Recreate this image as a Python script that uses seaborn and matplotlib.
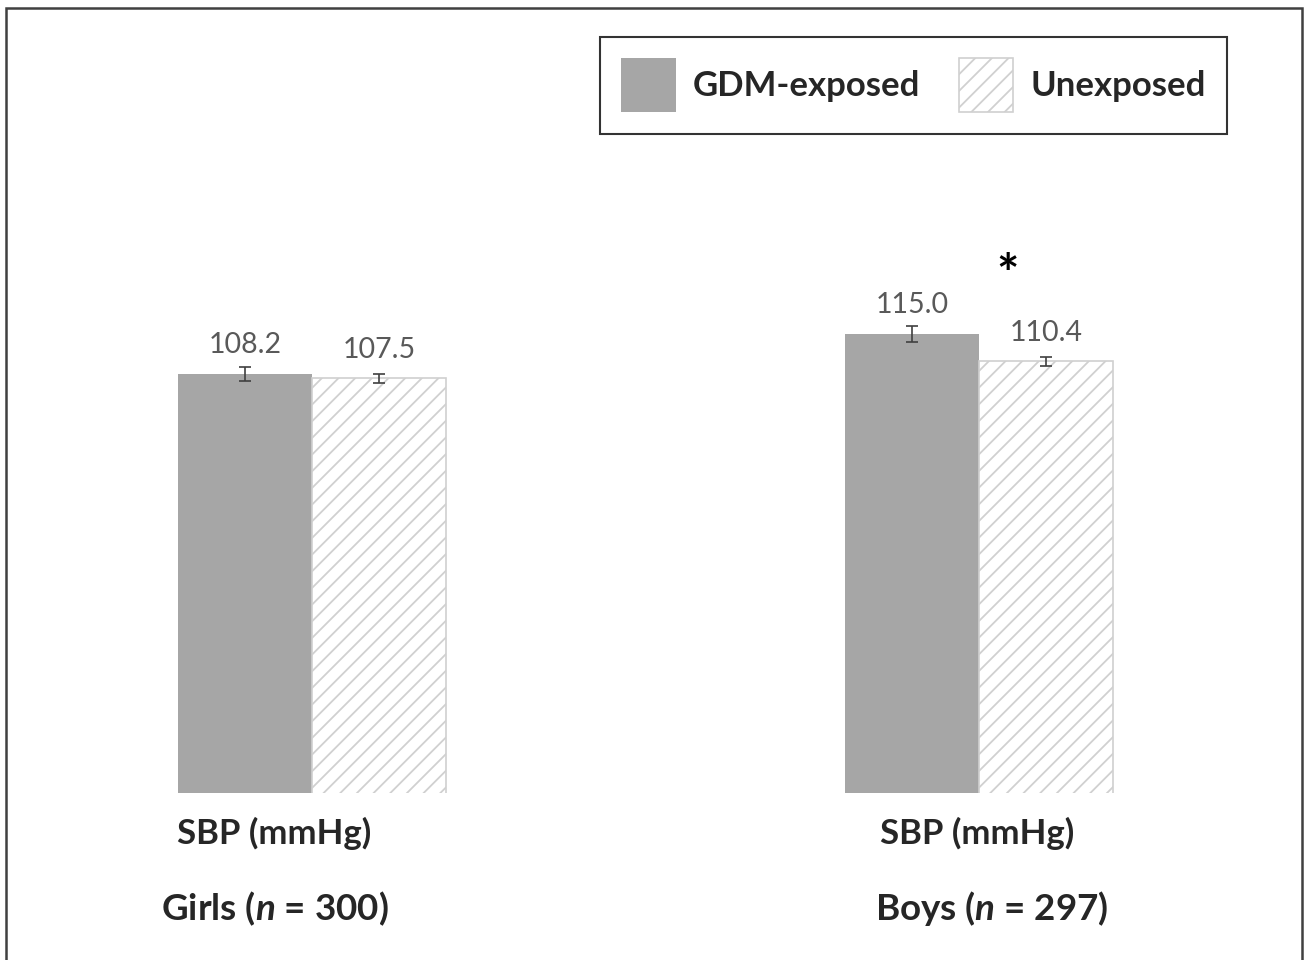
import matplotlib
matplotlib.use("Agg")
import matplotlib.pyplot as plt
import matplotlib.patches as mpatches
import seaborn as sns
import pandas as pd

# --------------------------------------
# Data
# --------------------------------------
groups = ["Girls", "Boys"]
group_labels = ["Girls ($\\mathit{n}$ = 300)", "Boys ($\\mathit{n}$ = 297)"]
exposures = ["GDM-exposed", "Unexposed"]
gdm_sbp = [108.2, 115.0]
unexp_sbp = [107.5, 110.4]
gdm_err = [1.2, 1.35]
unexp_err = [0.7, 0.75]

df = pd.DataFrame({
    "group": groups * 2,
    "exposure": [exposures[0]] * 2 + [exposures[1]] * 2,
    "sbp": gdm_sbp + unexp_sbp,
})

sns.set_style("white")
plt.rcParams["font.family"] = ["Lato", "DejaVu Sans"]
plt.rcParams["mathtext.fontset"] = "custom"
plt.rcParams["mathtext.it"] = "Lato:italic:bold"
plt.rcParams["mathtext.rm"] = "Lato:bold"
plt.rcParams["hatch.linewidth"] = 1.3

fig = plt.figure(figsize=(13.07, 9.6), dpi=100)
ax = fig.add_axes([0.0153, 0.174, 0.9717, 0.6698])

sns.barplot(data=df, x="group", y="sbp", hue="exposure", order=groups,
            hue_order=exposures, palette={"GDM-exposed": "#A6A6A6", "Unexposed": "white"},
            saturation=1, width=0.402, gap=0, errorbar=None, ax=ax, legend=False)

# style the bars
for p in ax.containers[0]:
    p.set_edgecolor("#A6A6A6")
    p.set_linewidth(0)
for p in ax.containers[1]:
    p.set_edgecolor("#D0D0D0")
    p.set_hatch("//")
    p.set_linewidth(1.2)

# error bars + value labels
for cont, vals, errs in zip(ax.containers, [gdm_sbp, unexp_sbp], [gdm_err, unexp_err]):
    xs = [p.get_x() + p.get_width() / 2 for p in cont]
    ax.errorbar(xs, vals, yerr=errs, fmt="none", ecolor="#404040",
                elinewidth=1.2, capsize=4, capthick=1.2)
    for x, v in zip(xs, vals):
        ax.annotate(f"{v:.1f}", xy=(x, v), xytext=(0, 15), textcoords="offset points",
                    ha="center", va="baseline", fontsize=20.5, color="#595959")

# significance mark (boys)
ax.text(1.043, 124.6, "*", ha="center", va="center", fontsize=38,
        fontweight="bold", color="black")

ax.set_xlim(-0.4378, 1.4663)
ax.set_ylim(37, 146.35)
ax.set_xlabel("")
ax.set_ylabel("")
ax.set_xticks([])
ax.set_yticks([])
sns.despine(ax=ax, left=True, bottom=True)

# labels under the bars
sbp_dx = [-27, -1]
grp_dx = [-27, 9]
for i, g in enumerate(groups):
    ax.annotate("SBP (mmHg)", xy=(i, 0), xycoords=("data", "axes fraction"),
                xytext=(sbp_dx[i], -29), textcoords="offset points",
                ha="center", va="center", fontsize=25, fontweight="bold")
    ax.annotate(group_labels[i], xy=(i, 0), xycoords=("data", "axes fraction"),
                xytext=(grp_dx[i], -83), textcoords="offset points",
                ha="center", va="center", fontsize=26.5, fontweight="bold")

# legend
handles = [ax.containers[0][0], ax.containers[1][0]]
leg = fig.legend(handles, exposures, loc="upper right", bbox_to_anchor=(0.9388, 0.9615),
                 ncol=2, fancybox=False, frameon=True, edgecolor="black",
                 prop={"size": 25, "weight": "bold"}, handlelength=1.56, handleheight=2.0,
                 handletextpad=0.5, columnspacing=1.1, borderpad=0.62, borderaxespad=0)
leg.get_frame().set_linewidth(1.5)

# outer frame
fig.patches.append(mpatches.Rectangle((6 / 1307, -0.02), 1296 / 1307, 1.02 - 8 / 960,
                                      transform=fig.transFigure, fill=False,
                                      edgecolor="#404040", linewidth=1.8))

fig.savefig("out.png", dpi=100, facecolor="white")
